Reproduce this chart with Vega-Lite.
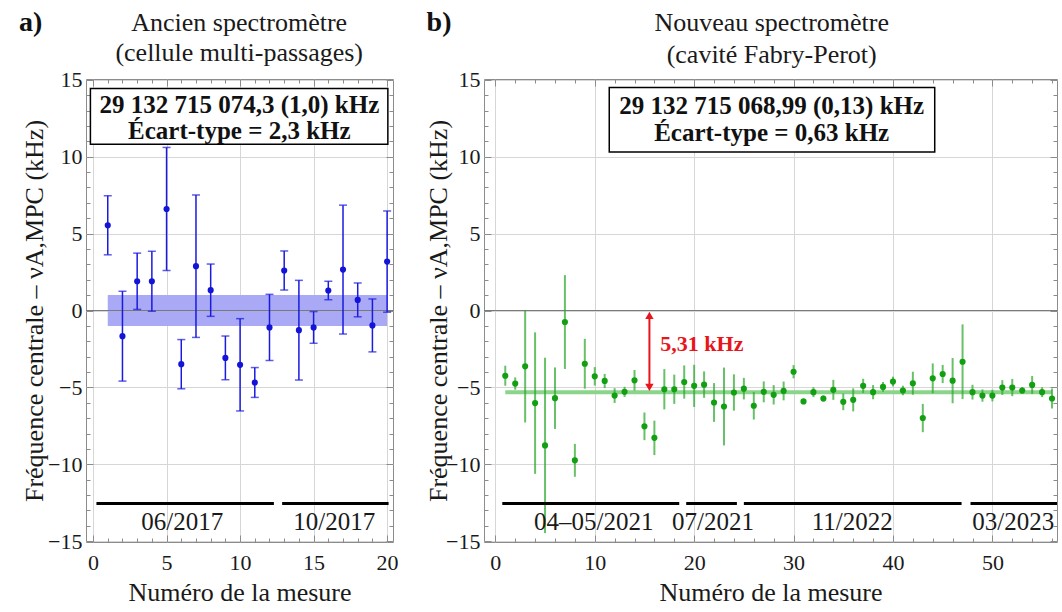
{
  "$schema": "https://vega.github.io/schema/vega-lite/v6.json",
  "background": "white",
  "padding": {"left": 18, "top": 8, "right": 0, "bottom": 0},
  "spacing": 26,
  "config": {
    "font": "Liberation Serif",
    "view": {"stroke": "#8c8c8c", "strokeWidth": 1},
    "axis": {
      "labelFont": "Liberation Serif", "titleFont": "Liberation Serif",
      "labelFontSize": 22, "titleFontSize": 26, "titleFontWeight": "normal",
      "labelColor": "#1a1a1a", "titleColor": "#1a1a1a",
      "domain": false, "gridColor": "#d6d6d6", "gridWidth": 1,
      "tickColor": "#8c8c8c", "tickWidth": 1
    }
  },
  "datasets": {
    "oldPts": [
      {"n": 1, "y": 5.54, "lo": 3.62, "hi": 7.46},
      {"n": 2, "y": -1.67, "lo": -4.59, "hi": 1.25},
      {"n": 3, "y": 1.9, "lo": 0.07, "hi": 3.73},
      {"n": 4, "y": 1.9, "lo": -0.05, "hi": 3.85},
      {"n": 5, "y": 6.6, "lo": 2.6, "hi": 10.6},
      {"n": 6, "y": -3.49, "lo": -5.09, "hi": -1.89},
      {"n": 7, "y": 2.88, "lo": -1.75, "hi": 7.51},
      {"n": 8, "y": 1.32, "lo": -0.38, "hi": 3.02},
      {"n": 9, "y": -3.08, "lo": -4.5, "hi": -1.66},
      {"n": 10, "y": -3.53, "lo": -6.53, "hi": -0.53},
      {"n": 11, "y": -4.68, "lo": -5.65, "hi": -3.71},
      {"n": 12, "y": -1.1, "lo": -3.25, "hi": 1.05},
      {"n": 13, "y": 2.6, "lo": 1.33, "hi": 3.87},
      {"n": 14, "y": -1.28, "lo": -4.52, "hi": 1.96},
      {"n": 15, "y": -1.1, "lo": -2.13, "hi": -0.07},
      {"n": 16, "y": 1.3, "lo": 0.7, "hi": 1.9},
      {"n": 17, "y": 2.66, "lo": -1.53, "hi": 6.85},
      {"n": 18, "y": 0.69, "lo": -0.41, "hi": 1.79},
      {"n": 19, "y": -0.97, "lo": -2.69, "hi": 0.75},
      {"n": 20, "y": 3.18, "lo": -0.11, "hi": 6.47}
    ],
    "newPts": [
      {"n": 1, "y": -4.24, "lo": -4.89, "hi": -3.59},
      {"n": 2, "y": -4.75, "lo": -5.15, "hi": -4.35},
      {"n": 3, "y": -3.63, "lo": -7.28, "hi": 0.02},
      {"n": 4, "y": -6.02, "lo": -10.62, "hi": -1.42},
      {"n": 5, "y": -8.77, "lo": -14.47, "hi": -3.07},
      {"n": 6, "y": -5.7, "lo": -7.7, "hi": -3.7},
      {"n": 7, "y": -0.75, "lo": -3.8, "hi": 2.3},
      {"n": 8, "y": -9.74, "lo": -10.81, "hi": -8.67},
      {"n": 9, "y": -3.46, "lo": -5.08, "hi": -1.84},
      {"n": 10, "y": -4.28, "lo": -4.88, "hi": -3.68},
      {"n": 11, "y": -4.58, "lo": -5.04, "hi": -4.12},
      {"n": 12, "y": -5.53, "lo": -6.01, "hi": -5.05},
      {"n": 13, "y": -5.29, "lo": -5.62, "hi": -4.96},
      {"n": 14, "y": -4.54, "lo": -5.21, "hi": -3.87},
      {"n": 15, "y": -7.53, "lo": -8.43, "hi": -6.63},
      {"n": 16, "y": -8.28, "lo": -9.4, "hi": -7.16},
      {"n": 17, "y": -5.12, "lo": -6.43, "hi": -3.81},
      {"n": 18, "y": -5.12, "lo": -6.07, "hi": -4.17},
      {"n": 19, "y": -4.65, "lo": -5.73, "hi": -3.57},
      {"n": 20, "y": -4.9, "lo": -6.27, "hi": -3.53},
      {"n": 21, "y": -4.82, "lo": -5.68, "hi": -3.96},
      {"n": 22, "y": -5.98, "lo": -7.24, "hi": -4.72},
      {"n": 23, "y": -6.24, "lo": -8.77, "hi": -3.71},
      {"n": 24, "y": -5.33, "lo": -6.51, "hi": -4.15},
      {"n": 25, "y": -5.08, "lo": -5.78, "hi": -4.38},
      {"n": 26, "y": -6.19, "lo": -7.09, "hi": -5.29},
      {"n": 27, "y": -5.29, "lo": -5.97, "hi": -4.61},
      {"n": 28, "y": -5.48, "lo": -6.11, "hi": -4.85},
      {"n": 29, "y": -5.23, "lo": -5.84, "hi": -4.62},
      {"n": 30, "y": -3.98, "lo": -4.41, "hi": -3.55},
      {"n": 31, "y": -5.91, "lo": -6.06, "hi": -5.76},
      {"n": 32, "y": -5.31, "lo": -5.63, "hi": -4.99},
      {"n": 33, "y": -5.72, "lo": -5.92, "hi": -5.52},
      {"n": 34, "y": -5.16, "lo": -5.81, "hi": -4.51},
      {"n": 35, "y": -5.94, "lo": -6.48, "hi": -5.4},
      {"n": 36, "y": -5.81, "lo": -6.56, "hi": -5.06},
      {"n": 37, "y": -4.9, "lo": -5.36, "hi": -4.44},
      {"n": 38, "y": -5.31, "lo": -5.77, "hi": -4.85},
      {"n": 39, "y": -4.97, "lo": -5.29, "hi": -4.65},
      {"n": 40, "y": -4.62, "lo": -4.94, "hi": -4.3},
      {"n": 41, "y": -5.2, "lo": -5.51, "hi": -4.89},
      {"n": 42, "y": -4.73, "lo": -5.48, "hi": -3.98},
      {"n": 43, "y": -6.99, "lo": -7.91, "hi": -6.07},
      {"n": 44, "y": -4.41, "lo": -5.38, "hi": -3.44},
      {"n": 45, "y": -4.13, "lo": -4.72, "hi": -3.54},
      {"n": 46, "y": -4.56, "lo": -6.03, "hi": -3.09},
      {"n": 47, "y": -3.33, "lo": -5.76, "hi": -0.9},
      {"n": 48, "y": -5.31, "lo": -5.79, "hi": -4.83},
      {"n": 49, "y": -5.53, "lo": -5.93, "hi": -5.13},
      {"n": 50, "y": -5.53, "lo": -5.91, "hi": -5.15},
      {"n": 51, "y": -5.01, "lo": -5.49, "hi": -4.53},
      {"n": 52, "y": -5.01, "lo": -5.57, "hi": -4.45},
      {"n": 53, "y": -5.2, "lo": -5.42, "hi": -4.98},
      {"n": 54, "y": -4.84, "lo": -5.42, "hi": -4.26},
      {"n": 55, "y": -5.31, "lo": -5.63, "hi": -4.99},
      {"n": 56, "y": -5.72, "lo": -6.37, "hi": -5.07}
    ],
    "oldBand": [{"a": 1, "b": 20, "lo": -1.0, "hi": 1.0}],
    "newBand": [{"a": 1, "b": 56, "lo": -5.44, "hi": -5.18}],
    "zero": [{"z": 0}],
    "oldSegs": [
      {"a": 0.23, "b": 12.3, "y": -12.55, "mid": 6.07, "ly": -13.75, "label": "06/2017"},
      {"a": 12.86, "b": 20.1, "y": -12.55, "mid": 16.4, "ly": -13.75, "label": "10/2017"}
    ],
    "newSegs": [
      {"a": 0.7, "b": 18.5, "y": -12.55, "mid": 9.9, "ly": -13.75, "label": "04–05/2021"},
      {"a": 19.2, "b": 24.3, "y": -12.55, "mid": 21.9, "ly": -13.75, "label": "07/2021"},
      {"a": 25.0, "b": 46.9, "y": -12.55, "mid": 35.9, "ly": -13.75, "label": "11/2022"},
      {"a": 47.8, "b": 56.5, "y": -12.55, "mid": 52.1, "ly": -13.75, "label": "03/2023"}
    ],
    "oldBox": [{"a": -0.18, "b": 20.05, "lo": 10.8, "hi": 14.43}],
    "newBox": [{"a": 11.46, "b": 44.2, "lo": 10.3, "hi": 14.5}],
    "oldBoxText": [
      {"x": 9.95, "y": 13.35, "t": "29 132 715 074,3 (1,0) kHz"},
      {"x": 9.95, "y": 11.65, "t": "Écart-type = 2,3 kHz"}
    ],
    "newBoxText": [
      {"x": 27.8, "y": 13.3, "t": "29 132 715 068,99 (0,13) kHz"},
      {"x": 27.8, "y": 11.55, "t": "Écart-type = 0,63 kHz"}
    ],
    "oldTitle": [
      {"x": 9.94, "y": 18.69, "t": "Ancien spectromètre"},
      {"x": 9.94, "y": 16.74, "t": "(cellule multi-passages)"}
    ],
    "newTitle": [
      {"x": 27.8, "y": 18.69, "t": "Nouveau spectromètre"},
      {"x": 27.8, "y": 16.6, "t": "(cavité Fabry-Perot)"}
    ],
    "oldTag": [{"x": -4.25, "y": 18.69, "t": "a)"}],
    "newTag": [{"x": -5.66, "y": 18.69, "t": "b)"}],
    "arrow": [{"x": 15.5, "lo": -4.85, "hi": -0.45, "tip1": -0.32, "tip2": -4.99, "lx": 16.6, "ly": -2.15, "t": "5,31 kHz"}]
  },
  "hconcat": [
    {
      "width": 307,
      "height": 463,
      "resolve": {"axis": {"x": "independent", "y": "independent"}},
      "layer": [
        {
          "data": {"name": "oldBand"},
          "mark": {"type": "rect", "color": "#a9a9f6"},
          "encoding": {
            "x": {"field": "a", "type": "quantitative", "scale": {"domain": [-0.48, 20.4], "nice": false, "zero": false},
                  "axis": {"orient": "bottom", "title": "Numéro de la mesure", "values": [0, 5, 10, 15, 20], "grid": true, "tickSize": -7, "labelPadding": 17, "titlePadding": 6, "format": "d"}},
            "x2": {"field": "b"},
            "y": {"field": "lo", "type": "quantitative", "scale": {"domain": [-15.05, 15.05], "nice": false, "zero": false},
                  "axis": {"orient": "left", "title": "Fréquence centrale – νA,MPC (kHz)", "values": [-15, -10, -5, 0, 5, 10, 15], "grid": true, "tickSize": -7, "labelPadding": 11, "titlePadding": 0, "format": "d"}},
            "y2": {"field": "hi"}
          }
        },
        {
          "data": {"name": "zero"},
          "mark": {"type": "rule", "color": "#7a7a7a", "strokeWidth": 1},
          "encoding": {"y": {"field": "z", "type": "quantitative", "scale": {"domain": [-15.05, 15.05], "nice": false, "zero": false}, "axis": null}}
        },
        {
          "data": {"name": "oldPts"},
          "mark": {"type": "rule", "color": "#1a1ae0", "strokeWidth": 1.5},
          "encoding": {
            "x": {"field": "n", "type": "quantitative", "scale": {"domain": [-0.48, 20.4], "nice": false, "zero": false},
                  "axis": {"orient": "top", "values": [0, 5, 10, 15, 20], "labels": false, "grid": false, "title": null, "tickSize": -7}},
            "y": {"field": "lo", "type": "quantitative", "scale": {"domain": [-15.05, 15.05], "nice": false, "zero": false},
                  "axis": {"orient": "right", "values": [-15, -10, -5, 0, 5, 10, 15], "labels": false, "grid": false, "title": null, "tickSize": -7}},
            "y2": {"field": "hi"}
          }
        },
        {
          "data": {"name": "oldPts"},
          "mark": {"type": "tick", "orient": "horizontal", "color": "#1a1ae0", "size": 8, "thickness": 1.5},
          "encoding": {
            "x": {"field": "n", "type": "quantitative", "scale": {"domain": [-0.48, 20.4], "nice": false, "zero": false},
                  "axis": {"orient": "bottom", "values": [1, 2, 3, 4, 6, 7, 8, 9, 11, 12, 13, 14, 16, 17, 18, 19], "labels": false, "grid": false, "title": null, "tickSize": -4}},
            "y": {"field": "lo", "type": "quantitative", "scale": {"domain": [-15.05, 15.05], "nice": false, "zero": false},
                  "axis": {"orient": "left", "values": [-14, -13, -12, -11, -9, -8, -7, -6, -4, -3, -2, -1, 1, 2, 3, 4, 6, 7, 8, 9, 11, 12, 13, 14], "labels": false, "grid": false, "title": null, "tickSize": -4}}
          }
        },
        {
          "data": {"name": "oldPts"},
          "mark": {"type": "tick", "orient": "horizontal", "color": "#1a1ae0", "size": 8, "thickness": 1.5},
          "encoding": {
            "x": {"field": "n", "type": "quantitative", "scale": {"domain": [-0.48, 20.4], "nice": false, "zero": false},
                  "axis": {"orient": "top", "values": [1, 2, 3, 4, 6, 7, 8, 9, 11, 12, 13, 14, 16, 17, 18, 19], "labels": false, "grid": false, "title": null, "tickSize": -4}},
            "y": {"field": "hi", "type": "quantitative", "scale": {"domain": [-15.05, 15.05], "nice": false, "zero": false},
                  "axis": {"orient": "right", "values": [-14, -13, -12, -11, -9, -8, -7, -6, -4, -3, -2, -1, 1, 2, 3, 4, 6, 7, 8, 9, 11, 12, 13, 14], "labels": false, "grid": false, "title": null, "tickSize": -4}}
          }
        },
        {
          "data": {"name": "oldPts"},
          "mark": {"type": "circle", "color": "#1414d8", "opacity": 1, "size": 38},
          "encoding": {
            "x": {"field": "n", "type": "quantitative", "scale": {"domain": [-0.48, 20.4], "nice": false, "zero": false}, "axis": null},
            "y": {"field": "y", "type": "quantitative", "scale": {"domain": [-15.05, 15.05], "nice": false, "zero": false}, "axis": null}
          }
        },
        {
          "data": {"name": "oldSegs"},
          "mark": {"type": "rule", "color": "black", "strokeWidth": 3},
          "encoding": {
            "x": {"field": "a", "type": "quantitative", "scale": {"domain": [-0.48, 20.4], "nice": false, "zero": false}, "axis": null},
            "x2": {"field": "b"},
            "y": {"field": "y", "type": "quantitative", "scale": {"domain": [-15.05, 15.05], "nice": false, "zero": false}, "axis": null}
          }
        },
        {
          "data": {"name": "oldSegs"},
          "mark": {"type": "text", "font": "Liberation Serif", "fontSize": 25, "color": "#1a1a1a", "align": "center", "baseline": "middle"},
          "encoding": {
            "x": {"field": "mid", "type": "quantitative", "scale": {"domain": [-0.48, 20.4], "nice": false, "zero": false}, "axis": null},
            "y": {"field": "ly", "type": "quantitative", "scale": {"domain": [-15.05, 15.05], "nice": false, "zero": false}, "axis": null},
            "text": {"field": "label"}
          }
        },
        {
          "data": {"name": "oldBox"},
          "mark": {"type": "rect", "fill": "white", "stroke": "black", "strokeWidth": 1.5},
          "encoding": {
            "x": {"field": "a", "type": "quantitative", "scale": {"domain": [-0.48, 20.4], "nice": false, "zero": false}, "axis": null},
            "x2": {"field": "b"},
            "y": {"field": "lo", "type": "quantitative", "scale": {"domain": [-15.05, 15.05], "nice": false, "zero": false}, "axis": null},
            "y2": {"field": "hi"}
          }
        },
        {
          "data": {"name": "oldBoxText"},
          "mark": {"type": "text", "font": "Liberation Serif", "fontSize": 25, "fontWeight": "bold", "color": "#111", "align": "center", "baseline": "middle"},
          "encoding": {
            "x": {"field": "x", "type": "quantitative", "scale": {"domain": [-0.48, 20.4], "nice": false, "zero": false}, "axis": null},
            "y": {"field": "y", "type": "quantitative", "scale": {"domain": [-15.05, 15.05], "nice": false, "zero": false}, "axis": null},
            "text": {"field": "t"}
          }
        },
        {
          "data": {"name": "oldTitle"},
          "mark": {"type": "text", "font": "Liberation Serif", "fontSize": 26, "color": "#1a1a1a", "align": "center", "baseline": "middle", "clip": false},
          "encoding": {
            "x": {"field": "x", "type": "quantitative", "scale": {"domain": [-0.48, 20.4], "nice": false, "zero": false}, "axis": null},
            "y": {"field": "y", "type": "quantitative", "scale": {"domain": [-15.05, 15.05], "nice": false, "zero": false}, "axis": null},
            "text": {"field": "t"}
          }
        },
        {
          "data": {"name": "oldTag"},
          "mark": {"type": "text", "font": "Liberation Serif", "fontSize": 28, "fontWeight": "bold", "color": "#111", "align": "center", "baseline": "middle", "clip": false},
          "encoding": {
            "x": {"field": "x", "type": "quantitative", "scale": {"domain": [-0.48, 20.4], "nice": false, "zero": false}, "axis": null},
            "y": {"field": "y", "type": "quantitative", "scale": {"domain": [-15.05, 15.05], "nice": false, "zero": false}, "axis": null},
            "text": {"field": "t"}
          }
        }
      ]
    },
    {
      "width": 573,
      "height": 463,
      "resolve": {"axis": {"x": "independent", "y": "independent"}},
      "layer": [
        {
          "data": {"name": "newBand"},
          "mark": {"type": "rect", "color": "#8ad58a"},
          "encoding": {
            "x": {"field": "a", "type": "quantitative", "scale": {"domain": [-1.14, 56.5], "nice": false, "zero": false},
                  "axis": {"orient": "bottom", "title": "Numéro de la mesure", "values": [0, 10, 20, 30, 40, 50], "grid": true, "tickSize": -7, "labelPadding": 17, "titlePadding": 6, "format": "d"}},
            "x2": {"field": "b"},
            "y": {"field": "lo", "type": "quantitative", "scale": {"domain": [-15.05, 15.05], "nice": false, "zero": false},
                  "axis": {"orient": "left", "title": "Fréquence centrale – νA,MPC (kHz)", "values": [-15, -10, -5, 0, 5, 10, 15], "grid": true, "tickSize": -7, "labelPadding": 11, "titlePadding": -6, "format": "d"}},
            "y2": {"field": "hi"}
          }
        },
        {
          "data": {"name": "zero"},
          "mark": {"type": "rule", "color": "#7a7a7a", "strokeWidth": 1},
          "encoding": {"y": {"field": "z", "type": "quantitative", "scale": {"domain": [-15.05, 15.05], "nice": false, "zero": false}, "axis": null}}
        },
        {
          "data": {"name": "newPts"},
          "mark": {"type": "rule", "color": "#2ea82e", "opacity": 0.72, "strokeWidth": 2},
          "encoding": {
            "x": {"field": "n", "type": "quantitative", "scale": {"domain": [-1.14, 56.5], "nice": false, "zero": false},
                  "axis": {"orient": "top", "values": [0, 10, 20, 30, 40, 50], "labels": false, "grid": false, "title": null, "tickSize": -7}},
            "y": {"field": "lo", "type": "quantitative", "scale": {"domain": [-15.05, 15.05], "nice": false, "zero": false},
                  "axis": {"orient": "right", "values": [-15, -10, -5, 0, 5, 10, 15], "labels": false, "grid": false, "title": null, "tickSize": -7}},
            "y2": {"field": "hi"}
          }
        },
        {
          "data": {"name": "newPts"},
          "mark": {"type": "circle", "color": "#12a012", "opacity": 1, "size": 38},
          "encoding": {
            "x": {"field": "n", "type": "quantitative", "scale": {"domain": [-1.14, 56.5], "nice": false, "zero": false},
                  "axis": {"orient": "bottom", "values": [2, 4, 6, 8, 12, 14, 16, 18, 22, 24, 26, 28, 32, 34, 36, 38, 42, 44, 46, 48, 52, 54, 56], "labels": false, "grid": false, "title": null, "tickSize": -4}},
            "y": {"field": "y", "type": "quantitative", "scale": {"domain": [-15.05, 15.05], "nice": false, "zero": false},
                  "axis": {"orient": "left", "values": [-14, -13, -12, -11, -9, -8, -7, -6, -4, -3, -2, -1, 1, 2, 3, 4, 6, 7, 8, 9, 11, 12, 13, 14], "labels": false, "grid": false, "title": null, "tickSize": -4}}
          }
        },
        {
          "data": {"name": "newSegs"},
          "mark": {"type": "rule", "color": "black", "strokeWidth": 3},
          "encoding": {
            "x": {"field": "a", "type": "quantitative", "scale": {"domain": [-1.14, 56.5], "nice": false, "zero": false},
                  "axis": {"orient": "top", "values": [2, 4, 6, 8, 12, 14, 16, 18, 22, 24, 26, 28, 32, 34, 36, 38, 42, 44, 46, 48, 52, 54, 56], "labels": false, "grid": false, "title": null, "tickSize": -4}},
            "x2": {"field": "b"},
            "y": {"field": "y", "type": "quantitative", "scale": {"domain": [-15.05, 15.05], "nice": false, "zero": false},
                  "axis": {"orient": "right", "values": [-14, -13, -12, -11, -9, -8, -7, -6, -4, -3, -2, -1, 1, 2, 3, 4, 6, 7, 8, 9, 11, 12, 13, 14], "labels": false, "grid": false, "title": null, "tickSize": -4}}
          }
        },
        {
          "data": {"name": "newSegs"},
          "mark": {"type": "text", "font": "Liberation Serif", "fontSize": 25, "color": "#1a1a1a", "align": "center", "baseline": "middle"},
          "encoding": {
            "x": {"field": "mid", "type": "quantitative", "scale": {"domain": [-1.14, 56.5], "nice": false, "zero": false}, "axis": null},
            "y": {"field": "ly", "type": "quantitative", "scale": {"domain": [-15.05, 15.05], "nice": false, "zero": false}, "axis": null},
            "text": {"field": "label"}
          }
        },
        {
          "data": {"name": "arrow"},
          "mark": {"type": "rule", "color": "#e8151b", "strokeWidth": 2},
          "encoding": {
            "x": {"field": "x", "type": "quantitative", "scale": {"domain": [-1.14, 56.5], "nice": false, "zero": false}, "axis": null},
            "y": {"field": "lo", "type": "quantitative", "scale": {"domain": [-15.05, 15.05], "nice": false, "zero": false}, "axis": null},
            "y2": {"field": "hi"}
          }
        },
        {
          "data": {"name": "arrow"},
          "mark": {"type": "point", "shape": "triangle-up", "filled": true, "color": "#e8151b", "opacity": 1, "size": 70},
          "encoding": {
            "x": {"field": "x", "type": "quantitative", "scale": {"domain": [-1.14, 56.5], "nice": false, "zero": false}, "axis": null},
            "y": {"field": "tip1", "type": "quantitative", "scale": {"domain": [-15.05, 15.05], "nice": false, "zero": false}, "axis": null}
          }
        },
        {
          "data": {"name": "arrow"},
          "mark": {"type": "point", "shape": "triangle-down", "filled": true, "color": "#e8151b", "opacity": 1, "size": 70},
          "encoding": {
            "x": {"field": "x", "type": "quantitative", "scale": {"domain": [-1.14, 56.5], "nice": false, "zero": false}, "axis": null},
            "y": {"field": "tip2", "type": "quantitative", "scale": {"domain": [-15.05, 15.05], "nice": false, "zero": false}, "axis": null}
          }
        },
        {
          "data": {"name": "arrow"},
          "mark": {"type": "text", "font": "Liberation Serif", "fontSize": 22, "fontWeight": "bold", "color": "#e8151b", "align": "left", "baseline": "middle"},
          "encoding": {
            "x": {"field": "lx", "type": "quantitative", "scale": {"domain": [-1.14, 56.5], "nice": false, "zero": false}, "axis": null},
            "y": {"field": "ly", "type": "quantitative", "scale": {"domain": [-15.05, 15.05], "nice": false, "zero": false}, "axis": null},
            "text": {"field": "t"}
          }
        },
        {
          "data": {"name": "newBox"},
          "mark": {"type": "rect", "fill": "white", "stroke": "black", "strokeWidth": 1.5},
          "encoding": {
            "x": {"field": "a", "type": "quantitative", "scale": {"domain": [-1.14, 56.5], "nice": false, "zero": false}, "axis": null},
            "x2": {"field": "b"},
            "y": {"field": "lo", "type": "quantitative", "scale": {"domain": [-15.05, 15.05], "nice": false, "zero": false}, "axis": null},
            "y2": {"field": "hi"}
          }
        },
        {
          "data": {"name": "newBoxText"},
          "mark": {"type": "text", "font": "Liberation Serif", "fontSize": 25, "fontWeight": "bold", "color": "#111", "align": "center", "baseline": "middle"},
          "encoding": {
            "x": {"field": "x", "type": "quantitative", "scale": {"domain": [-1.14, 56.5], "nice": false, "zero": false}, "axis": null},
            "y": {"field": "y", "type": "quantitative", "scale": {"domain": [-15.05, 15.05], "nice": false, "zero": false}, "axis": null},
            "text": {"field": "t"}
          }
        },
        {
          "data": {"name": "newTitle"},
          "mark": {"type": "text", "font": "Liberation Serif", "fontSize": 26, "color": "#1a1a1a", "align": "center", "baseline": "middle", "clip": false},
          "encoding": {
            "x": {"field": "x", "type": "quantitative", "scale": {"domain": [-1.14, 56.5], "nice": false, "zero": false}, "axis": null},
            "y": {"field": "y", "type": "quantitative", "scale": {"domain": [-15.05, 15.05], "nice": false, "zero": false}, "axis": null},
            "text": {"field": "t"}
          }
        },
        {
          "data": {"name": "newTag"},
          "mark": {"type": "text", "font": "Liberation Serif", "fontSize": 28, "fontWeight": "bold", "color": "#111", "align": "center", "baseline": "middle", "clip": false},
          "encoding": {
            "x": {"field": "x", "type": "quantitative", "scale": {"domain": [-1.14, 56.5], "nice": false, "zero": false}, "axis": null},
            "y": {"field": "y", "type": "quantitative", "scale": {"domain": [-15.05, 15.05], "nice": false, "zero": false}, "axis": null},
            "text": {"field": "t"}
          }
        }
      ]
    }
  ]
}
